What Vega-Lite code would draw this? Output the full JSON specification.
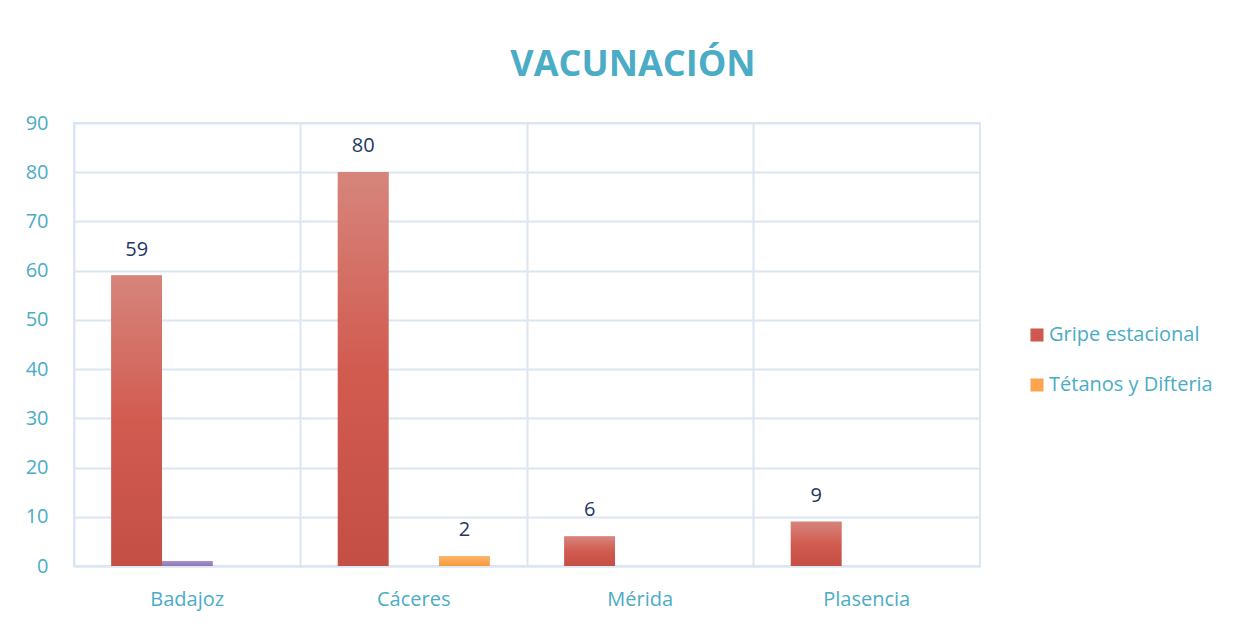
{
  "$schema": "https://vega.github.io/schema/vega-lite/v6.json",
  "autosize": "none",
  "width": 906,
  "height": 443,
  "padding": {"left": 74, "top": 123, "right": 278, "bottom": 58},
  "background": "white",
  "title": {
    "text": "VACUNACIÓN",
    "anchor": "middle",
    "dx": 106,
    "offset": 29,
    "font": "Open Sans",
    "fontSize": 36,
    "fontWeight": "bold",
    "color": "#4bacc6"
  },
  "data": {
    "values": [
      {"ciudad": "Badajoz", "vacuna": "Gripe estacional", "valor": 59},
      {"ciudad": "Badajoz", "vacuna": "Otras", "valor": 1},
      {"ciudad": "Cáceres", "vacuna": "Gripe estacional", "valor": 80},
      {"ciudad": "Cáceres", "vacuna": "Tétanos y Difteria", "valor": 2},
      {"ciudad": "Mérida", "vacuna": "Gripe estacional", "valor": 6},
      {"ciudad": "Plasencia", "vacuna": "Gripe estacional", "valor": 9}
    ]
  },
  "encoding": {
    "x": {
      "field": "ciudad",
      "type": "nominal",
      "sort": ["Badajoz", "Cáceres", "Mérida", "Plasencia"],
      "scale": {"paddingInner": 0, "paddingOuter": 0},
      "axis": {
        "title": null,
        "labelAngle": 0,
        "labelFont": "Open Sans",
        "labelFontSize": 20,
        "labelColor": "#4bacc6",
        "labelPadding": 23,
        "ticks": false,
        "domain": true,
        "domainColor": "#dce6f2",
        "domainWidth": 2,
        "grid": true,
        "gridColor": "#dce6f2",
        "gridWidth": 2,
        "bandPosition": 0
      }
    },
    "xOffset": {
      "field": "vacuna",
      "type": "nominal",
      "scale": {"domain": ["Gripe estacional", "Otras", "Tétanos y Difteria"], "paddingInner": 0, "paddingOuter": 0.738}
    },
    "y": {
      "field": "valor",
      "type": "quantitative",
      "scale": {"domain": [0, 90]},
      "axis": {
        "title": null,
        "values": [0, 10, 20, 30, 40, 50, 60, 70, 80, 90],
        "labelFont": "Open Sans",
        "labelFontSize": 20,
        "labelColor": "#4bacc6",
        "labelPadding": 26,
        "ticks": false,
        "domain": false,
        "gridColor": "#dce6f2",
        "gridWidth": 2
      }
    }
  },
  "layer": [
    {
      "mark": {"type": "bar"},
      "encoding": {
        "color": {
          "field": "vacuna",
          "type": "nominal",
          "scale": {
            "domain": ["Gripe estacional", "Otras", "Tétanos y Difteria"],
            "range": ["#cd5a50", "#9b84bf", "#fba550"]
          },
          "legend": {
            "title": null,
            "values": ["Gripe estacional", "Tétanos y Difteria"],
            "orient": "none",
            "legendX": 953,
            "legendY": 202,
            "symbolType": "square",
            "symbolSize": 170,
            "symbolStrokeWidth": 0,
            "labelFont": "Open Sans",
            "labelFontSize": 20,
            "labelColor": "#4bacc6",
            "labelOffset": 2,
            "labelLimit": 400,
            "rowPadding": 30
          }
        }
      }
    },
    {
      "transform": [{"filter": "datum.vacuna === 'Gripe estacional'"}],
      "mark": {
        "type": "bar",
        "color": {"gradient": "linear", "x1": 0, "y1": 0, "x2": 0, "y2": 1, "stops": [{"offset": 0, "color": "#d6857c"}, {"offset": 0.5, "color": "#d25b50"}, {"offset": 1, "color": "#c34f45"}]}
      }
    },
    {
      "transform": [{"filter": "datum.vacuna === 'Otras'"}],
      "mark": {
        "type": "bar",
        "color": {"gradient": "linear", "x1": 0, "y1": 0, "x2": 0, "y2": 1, "stops": [{"offset": 0, "color": "#a892c9"}, {"offset": 1, "color": "#8e76b6"}]}
      }
    },
    {
      "transform": [{"filter": "datum.vacuna === 'Tétanos y Difteria'"}],
      "mark": {
        "type": "bar",
        "color": {"gradient": "linear", "x1": 0, "y1": 0, "x2": 0, "y2": 1, "stops": [{"offset": 0, "color": "#fdb468"}, {"offset": 1, "color": "#f79a3e"}]}
      }
    },
    {
      "transform": [{"filter": "datum.vacuna !== 'Otras'"}],
      "mark": {
        "type": "text",
        "dy": -26,
        "baseline": "middle",
        "font": "Open Sans",
        "fontSize": 20,
        "color": "#1f3864"
      },
      "encoding": {"text": {"field": "valor", "type": "quantitative"}}
    }
  ],
  "config": {
    "view": {"stroke": "#dce6f2", "strokeWidth": 2}
  }
}
